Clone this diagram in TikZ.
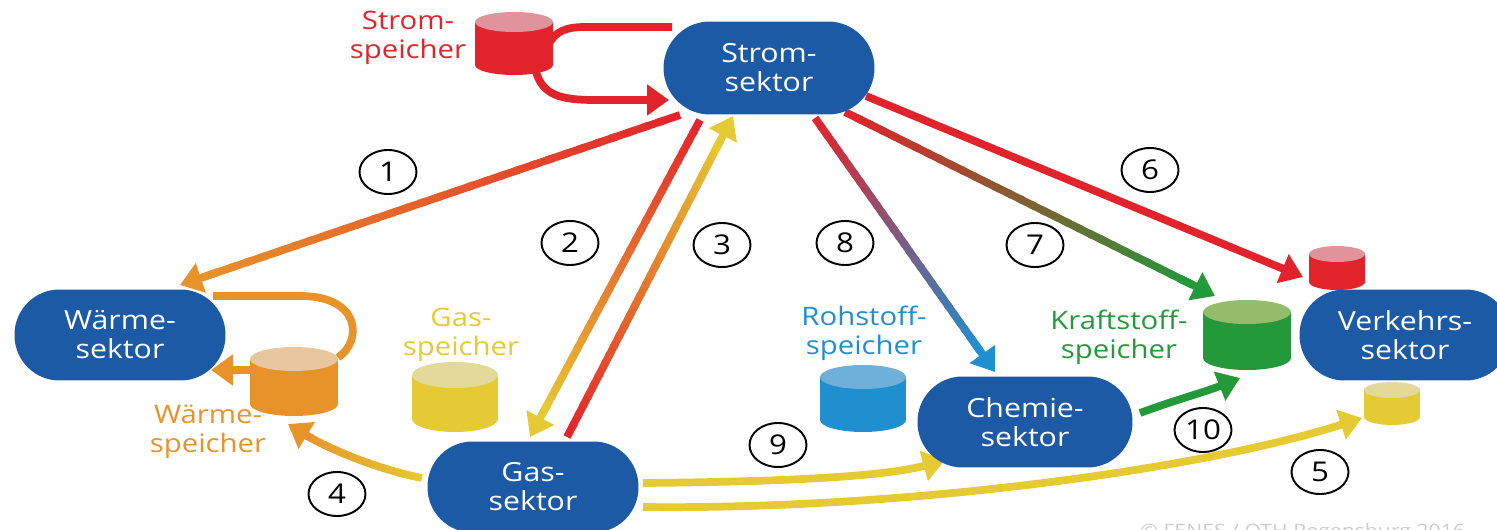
\documentclass[tikz,border=0pt]{standalone}
\usepackage{fontspec}
\setmainfont[FakeStretch=1.15]{Open Sans}
\usetikzlibrary{arrows.meta,calc,shapes.geometric}
\pgfdeclarelayer{back}
\pgfsetlayers{back,main}
\definecolor{nblue}{HTML}{1D5AA6}
\definecolor{cred}{HTML}{E3232B}
\definecolor{credt}{HTML}{E0939A}
\definecolor{corange}{HTML}{E8922A}
\definecolor{corangt}{HTML}{E9C79E}
\definecolor{cyellow}{HTML}{E5CA33}
\definecolor{cyellowt}{HTML}{E2D99B}
\definecolor{cblue}{HTML}{1F8FD0}
\definecolor{cbluet}{HTML}{6FB0D8}
\definecolor{cgreen}{HTML}{23993A}
\definecolor{cgreent}{HTML}{94BD6B}
\tikzset{
 sector/.style={fill=nblue, text=white, rounded corners=0.9cm, minimum width=4.22cm, minimum height=1.82cm, align=center, font=\fontsize{15}{16.5}\selectfont, inner sep=0},
 numc/.style={ellipse, draw=black, line width=1.1pt, minimum width=1.14cm, minimum height=0.88cm, inner sep=0, font=\fontsize{15.5}{16}\selectfont},
 lab/.style={align=center, font=\fontsize{14.5}{16.5}\selectfont, inner sep=0},
 flow/.style={line width=4.4pt},
 tip/.style={-{Triangle[length=0.44cm,width=0.6cm]}},
}
% straight gradient arrow: start, end, start colour, end colour
\newcommand\gradflow[4]{%
 \coordinate (gE) at ($(#2)!0.5cm!(#1)$);
 \foreach \i in {0,...,29}{%
   \pgfmathsetmacro\ta{\i/30}%
   \pgfmathsetmacro\tb{min((\i+1.4)/30,1)}%
   \pgfmathtruncatemacro\pc{100*(\i+0.5)/30}%
   \draw[flow, color=#4!\pc!#3] ($(#1)!\ta!(gE)$) -- ($(#1)!\tb!(gE)$);
 }%
 \draw[flow, tip, color=#4] ($(gE)!0.3cm!(#1)$) -- (#2);
}
% cylinder: name, cx, ytop, ybot, width, ry, body, top
\newcommand\cyl[8]{%
 \fill[#7] ({#2-#5/2},{#3+#6}) rectangle ({#2+#5/2},{#4-#6});
 \fill[#7] (#2,{#4-#6}) ellipse[x radius={#5*0.01cm}, y radius={#6*0.02cm}];
 \fill[#8] (#2,{#3+#6}) ellipse[x radius={#5*0.01cm}, y radius={#6*0.02cm}];
 \node[inner sep=0, minimum width={#5*0.02cm}, minimum height={(#4-#3)*0.02cm}] (#1) at (#2,{(#3+#4)/2}) {};
}
\begin{document}
\begin{tikzpicture}[x=0.02cm, y=-0.02cm]
\useasboundingbox (0,0) rectangle (1497,530);
\clip (0,0) rectangle (1497,530);

% sectors
\node[sector, minimum height=1.86cm, rounded corners=0.93cm] (strom) at (769,68) {Strom-\\sektor};
\node[sector] (waerme) at (120,335) {Wärme-\\sektor};
\node[sector] (gas) at (533,487) {Gas-\\sektor};
\node[sector, minimum width=4.3cm] (chemie) at (1025,422) {Chemie-\\sektor};
\node[sector] (verkehr) at (1405,335) {Verkehrs-\\sektor};

% storages
\cyl{ssp}{514}{12}{75}{78}{10}{cred}{credt}
\cyl{wsp}{294}{347}{416}{88}{12}{corange}{corangt}
\cyl{gsp}{455}{362}{432}{86}{13}{cyellow}{cyellowt}
\cyl{rsp}{863}{365}{432}{86}{12}{cblue}{cbluet}
\cyl{ksp}{1247}{300}{370}{88}{12}{cgreen}{cgreent}
\cyl{vred}{1337}{246}{290}{56}{8}{cred}{credt}
\cyl{vyel}{1392}{382}{425}{56}{8}{cyellow}{cyellowt}

% labels
\node[lab, text=cred] (lstrom) at (408,38) {Strom-\\speicher};
\node[lab, text=cyellow] (lgas) at (461,335) {Gas-\\speicher};
\node[lab, text=corange] (lwaerme) at (208,432) {Wärme-\\speicher};
\node[lab, text=cblue] (lroh) at (864,333) {Rohstoff-\\speicher};
\node[lab, text=cgreen] (lkraft) at (1119,337) {Kraftstoff-\\speicher};

% numbers
\node[numc] (n1) at (388,172) {1};
\node[numc] (n2) at (570,243) {2};
\node[numc] (n3) at (722,245) {3};
\node[numc] (n8) at (845,243) {8};
\node[numc] (n7) at (1035,245) {7};
\node[numc] (n6) at (1150,170) {6};
\node[numc] (n4) at (337,494) {4};
\node[numc] (n9) at (778,445) {9};
\node[numc] (n10) at (1203,430) {10};
\node[numc] (n5) at (1320,472) {5};

\node[anchor=base west, text=gray!40, font=\fontsize{10.5}{12}\selectfont, inner sep=0] (copy) at (1140,537) {© FENES / OTH Regensburg 2016};

% connector end points
\coordinate (a1s) at ($(strom)+(-89,47)$);
\coordinate (a2s) at ($(strom)+(-69,52)$);
\coordinate (a3e) at ($(strom)+(-36,48)$);
\coordinate (a8s) at ($(strom)+(46,50)$);
\coordinate (a7s) at ($(strom)+(76,44)$);
\coordinate (a6s) at ($(strom)+(97,28)$);
\coordinate (sl1) at ($(strom)+(-97,-41)$);
\coordinate (sl2) at ($(strom)+(-100,32)$);
\coordinate (a1e) at ($(waerme)+(60,-50)$);
\coordinate (wl1) at ($(waerme)+(93,-39)$);
\coordinate (wl2) at ($(waerme)+(91,35)$);
\coordinate (a2e) at ($(gas)+(-3,-50)$);
\coordinate (a3s) at ($(gas)+(34,-50)$);
\coordinate (a4s) at ($(gas)+(-111,-9)$);
\coordinate (a9s) at ($(gas)+(110,-4)$);
\coordinate (a5s) at ($(gas)+(110,20)$);
\coordinate (a8e) at ($(chemie)+(-30,-50)$);
\coordinate (a9e) at ($(chemie)+(-80,38)$);
\coordinate (a10s) at ($(chemie)+(115,-9)$);
\coordinate (a7e) at ($(ksp)+(-32,-39)$);
\coordinate (a10e) at ($(ksp)+(-7,43)$);
\coordinate (a6e) at ($(vred)+(-34,9)$);
\coordinate (a5e) at ($(vyel)+(-30,14.5)$);
\coordinate (a4e) at ($(wsp)+(-6,42.5)$);
\coordinate (wl3) at ($(wsp)+(44,-24)$);
\coordinate (wl4) at ($(wsp)+(-44,-11.5)$);
\coordinate (sl3) at ($(ssp)+(36,-1.5)$);
\coordinate (sl4) at ($(ssp)+(22,28.5)$);

\begin{pgfonlayer}{back}
% Stromspeicher loop
\draw[flow, cred] (sl1) -- (585,27) .. controls (565,27) and (556,32) .. (sl3);
\draw[flow, cred, tip] (sl4) .. controls (543,95) and (560,100) .. (595,100) -- (sl2);
% Waermespeicher loop
\draw[flow, corange] (wl1) -- (300,296) .. controls (362,296) and (362,342) .. (wl3);
\draw[flow, corange, tip] (wl4) -- (wl2);
% gradient arrows
\gradflow{a1s}{a1e}{cred}{corange}
\gradflow{a2s}{a2e}{cred}{cyellow}
\gradflow{a3s}{a3e}{cred}{cyellow}
\gradflow{a8s}{a8e}{cred}{cblue}
\gradflow{a7s}{a7e}{cred}{cgreen}
\draw[flow, cred, tip] (a6s) -- (a6e);
% arrow 4 (yellow to orange, curved)
\coordinate (c41) at (380,470);
\coordinate (c42) at (322,448);
\foreach \i in {0,...,24}{%
  \pgfmathsetmacro\ta{0.86*\i/25}%
  \pgfmathsetmacro\tb{0.86*min((\i+1.4)/25,1)}%
  \pgfmathtruncatemacro\pc{100*(\i+0.5)/25}%
  \draw[flow, color=corange!\pc!cyellow]
   ($ {(1-\ta)^3}*(a4s) + {3*(1-\ta)^2*\ta}*(c41) + {3*(1-\ta)*\ta^2}*(c42) + {\ta^3}*(a4e) $) --
   ($ {(1-\tb)^3}*(a4s) + {3*(1-\tb)^2*\tb}*(c41) + {3*(1-\tb)*\tb^2}*(c42) + {\tb^3}*(a4e) $);
}
\draw[flow, corange, tip] ($ {0.2^3}*(a4s) + {3*0.2^2*0.8}*(c41) + {3*0.2*0.8^2}*(c42) + {0.8^3}*(a4e) $) -- (a4e);
% yellow and green curved arrows
\draw[flow, cyellow, tip] (a9s) .. controls (760,482) and (880,478) .. (a9e);
\draw[flow, cyellow, tip] (a5s) .. controls (900,510) and (1200,470) .. (a5e);
\draw[flow, cgreen, tip] (a10s) .. controls (1175,400) and (1205,392) .. (a10e);
\end{pgfonlayer}
\end{tikzpicture}
\end{document}
